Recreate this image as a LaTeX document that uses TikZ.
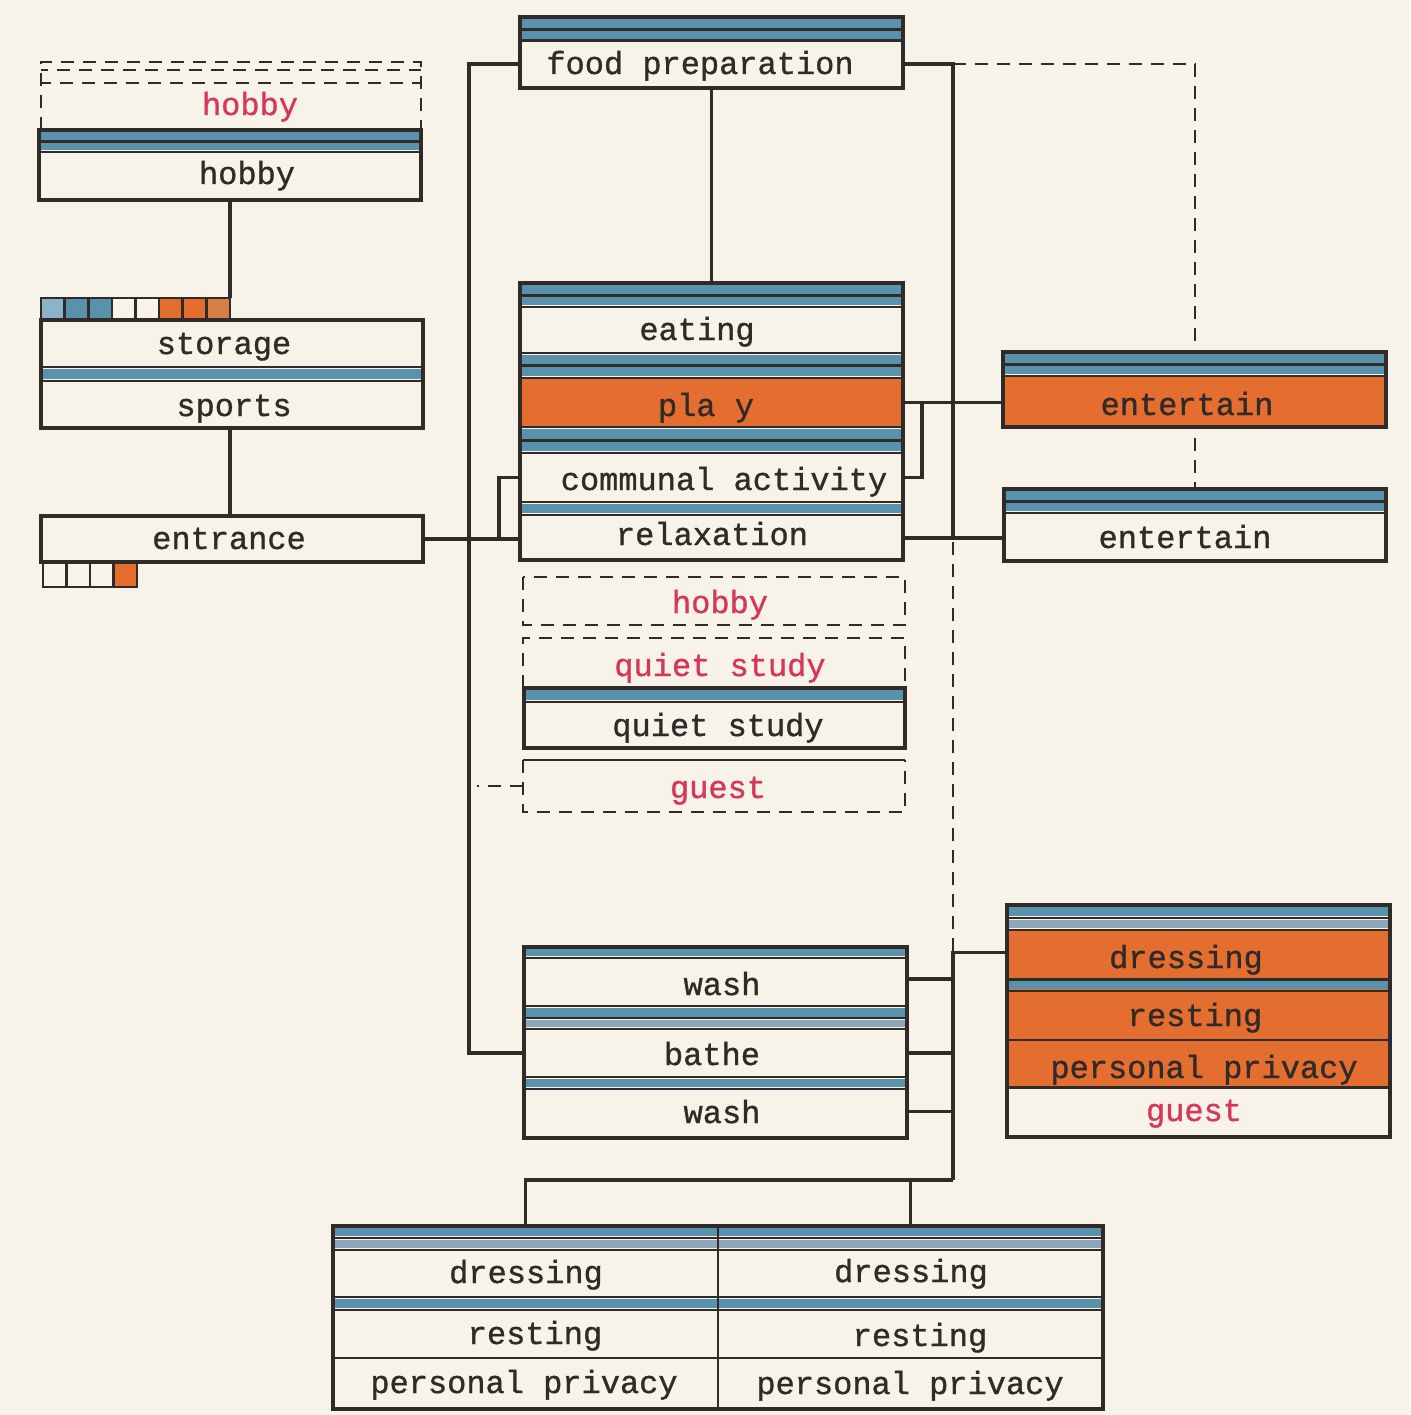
\documentclass[tikz,border=0pt]{standalone}
\usepackage{fontspec}
\newfontfamily\twfont[FakeBold=1]{Liberation Mono}
\definecolor{bg}{RGB}{247,243,232}
\definecolor{inkc}{RGB}{48,42,40}
\definecolor{redc}{RGB}{214,55,88}
\definecolor{bandb}{RGB}{88,146,172}
\definecolor{bandg}{RGB}{143,165,184}
\definecolor{blueL}{RGB}{140,180,200}
\definecolor{orng}{RGB}{228,110,48}
\definecolor{orng2}{RGB}{214,126,72}
\newcommand\cellnode[5]{\pgfmathsetmacro\mycw{#3-#1}\pgfmathsetmacro\mych{#4-#2}%
  \node[area,minimum width=\mycw pt,minimum height=\mych pt] (#5) at (#1,#2) {};}
\newcommand\hln[3]{\draw[inner] (#1,#3) -- (#2,#3);}
\newcommand\bnd[5]{\fill[#5] (#1,#3) rectangle (#2,#4);}
\begin{document}
\begin{tikzpicture}[x=1pt,y=-1pt,
  conn/.style={draw=inkc,line width=3.2pt},
  inner/.style={draw=inkc,line width=2.8pt},
  outl/.style={draw=inkc,line width=3.4pt},
  dsh/.style={draw=inkc,line width=2pt,dash pattern=on 13pt off 9pt},
  txt/.style={font=\twfont\fontsize{32}{32}\selectfont,text=inkc,anchor=base,inner sep=0},
  rtxt/.style={txt,text=redc},
  area/.style={inner sep=0,outer sep=0,anchor=north west,draw=none}]
\fill[bg] (0,0) rectangle (1410,1415);
\useasboundingbox (0,0) rectangle (1410,1415);
% ---------- areas ----------
\cellnode{41}{62}{421}{130}{hghost}
\cellnode{39}{130}{421}{200}{hb}
\cellnode{41}{298}{230}{320}{stq}
\cellnode{41}{320}{423}{428}{ssb}
\cellnode{41}{516}{423}{562}{ent}
\cellnode{43}{562}{137}{587}{etq}
\cellnode{520}{17}{903}{88}{fp}
\cellnode{520}{40}{903}{88}{fprow}
\cellnode{520}{283}{903}{560}{cbox}
\cellnode{520}{307}{903}{353}{eat}
\cellnode{520}{378}{903}{427}{play}
\cellnode{520}{453}{903}{502}{comm}
\cellnode{520}{516}{903}{560}{relax}
\cellnode{523}{577}{905}{625}{hobg}
\cellnode{523}{638}{905}{688}{qsg}
\cellnode{524}{688}{905}{748}{qs}
\cellnode{523}{760}{905}{812}{guestg}
\cellnode{1003}{352}{1386}{427}{enta}
\cellnode{1003}{376}{1386}{427}{entarow}
\cellnode{1004}{489}{1386}{561}{entb}
\cellnode{1004}{513}{1386}{561}{entbrow}
\cellnode{524}{947}{907}{1138}{wb}
\cellnode{524}{958}{907}{1000}{washa}
\cellnode{524}{1029}{907}{1077}{bathe}
\cellnode{524}{1089}{907}{1134}{washb}
\cellnode{1007}{905}{1390}{1137}{db}
\cellnode{1007}{930}{1390}{975}{dress}
\cellnode{1007}{991}{1390}{1040}{rest}
\cellnode{1007}{1040}{1390}{1087}{pp}
\cellnode{1007}{1087}{1390}{1137}{guest}
\cellnode{333}{1226}{718}{1409}{tl}
\cellnode{718}{1226}{1103}{1409}{tr}
\coordinate (yb) at (0,1180);
% ---------- connectors ----------
\draw[conn] (hb.south) -- (hb.south |- stq.north);
\draw[conn] (ssb.south -| hb.south) -- (ent.north -| hb.south);
\draw[conn] (ent.east) -- (ent.east -| relax.west);
\draw[conn] ([xshift=-21pt]relax.west) |- (comm.west);
\draw[conn] (fprow.west) -- ++(-51,0) coordinate (lv) |- (bathe.west);
\draw[dsh] (guestg.west) -- ++(-46,0);
\draw[conn] (fp.south) -- (cbox.north);
\draw[conn] (fprow.east) -- ++(50,0) coordinate (rv) -- (rv |- relax.east);
\draw[conn] (relax.east) -- (relax.east -| entbrow.west);
\draw[dsh] (rv) -- (rv -| entb.north) -- (entb.north);
\draw[dsh] ([yshift=-4pt]rv |- relax.east) -- (rv |- dress.west);
\draw[conn] (play.east) -- (play.east -| entarow.west);
\draw[conn] (comm.east) -- ++(19,0) |- (play.east);
\draw[conn] (dress.west) -- (dress.west -| rv) coordinate (jt) -- (jt |- yb) coordinate (jb);
\draw[conn] (washa.east) -- (washa.east -| rv);
\draw[conn] (bathe.east) -- (bathe.east -| rv);
\draw[conn] (washb.east) -- (washb.east -| rv);
\draw[conn] (jb) -- (jb -| tl.north) -- (tl.north);
\draw[conn] (jb -| tr.north) -- (tr.north);
% ---------- ghost boxes ----------
\draw[dsh] (hghost.south west) -- (hghost.north west) -- (hghost.north east) -- (hghost.south east);
\draw[dsh,dash phase=6pt] (41,70) -- (421,70);
\draw[dsh,dash phase=3pt] (41,83) -- (421,83);
\draw[dsh] (hobg.north west) rectangle (hobg.south east);
\draw[dsh] (qsg.south west) -- (qsg.north west) -- (qsg.north east) -- (qsg.south east);
\draw[dsh] (guestg.north west) -- (guestg.south west) -- (guestg.south east) -- (guestg.north east);
\draw[inner] (guestg.north west) -- (guestg.north east);
% ---------- box fills ----------
\foreach \b in {hb,ssb,ent,fp,cbox,qs,enta,entb,wb,db,tl,tr}{\fill[bg] (\b.north west) rectangle (\b.south east);}
% hobby
\bnd{39}{421}{131}{140}{bandb}
\bnd{39}{421}{143}{150}{bandb}
\hln{39}{421}{141.5}
\hln{39}{421}{152}
% storage squares
\foreach \c [count=\i from 0] in {blueL,bandb,bandb,bg,bg,orng,orng,orng2}{
  \fill[\c] (41+\i*23.6,298) rectangle (41+\i*23.6+23.6,320);
  \draw[inner,line width=2.6pt] (41+\i*23.6,298) rectangle (41+\i*23.6+23.6,320);}
% storage / sports
\hln{41}{423}{367}
\bnd{41}{423}{369}{379}{bandb}
\hln{41}{423}{381}
% entrance squares
\foreach \c [count=\i from 0] in {bg,bg,bg,orng}{
  \fill[\c] (43+\i*23.5,562) rectangle (43+\i*23.5+23.5,587);
  \draw[inner,line width=2.6pt] (43+\i*23.5,562) rectangle (43+\i*23.5+23.5,587);}
% food preparation
\bnd{520}{903}{19}{28}{bandb}
\bnd{520}{903}{31}{39}{bandb}
\hln{520}{903}{29.5}
\hln{520}{903}{40.5}
% eating block
\fill[orng] (play.north west) rectangle (play.south east);
\bnd{520}{903}{285}{294}{bandb}
\bnd{520}{903}{297}{305}{bandb}
\hln{520}{903}{295.5}
\hln{520}{903}{307}
\hln{520}{903}{353}
\bnd{520}{903}{355}{364}{bandb}
\bnd{520}{903}{367}{376}{bandb}
\hln{520}{903}{365.5}
\hln{520}{903}{378}
\hln{520}{903}{427}
\bnd{520}{903}{429}{439}{bandb}
\bnd{520}{903}{442}{451}{bandb}
\hln{520}{903}{440.5}
\hln{520}{903}{453}
\hln{520}{903}{502}
\bnd{520}{903}{504}{513}{bandb}
\hln{520}{903}{515}
% quiet study
\bnd{524}{905}{690}{700}{bandb}
\hln{524}{905}{702}
% entertain boxes
\fill[orng] (entarow.north west) rectangle (entarow.south east);
\bnd{1003}{1386}{354}{363}{bandb}
\bnd{1003}{1386}{366}{374}{bandb}
\hln{1003}{1386}{364.5}
\hln{1003}{1386}{376}
\bnd{1004}{1386}{491}{500}{bandb}
\bnd{1004}{1386}{503}{511}{bandb}
\hln{1004}{1386}{501.5}
\hln{1004}{1386}{513}
% wash block
\bnd{524}{907}{949}{956}{bandb}
\hln{524}{907}{958}
\hln{524}{907}{1006}
\bnd{524}{907}{1008}{1017}{bandb}
\hln{524}{907}{1018}
\bnd{524}{907}{1020}{1027}{bandg}
\hln{524}{907}{1029}
\hln{524}{907}{1077}
\bnd{524}{907}{1079}{1087}{bandb}
\hln{524}{907}{1089}
% dressing box right
\fill[orng] (1007,930) rectangle (1390,1087);
\bnd{1007}{1390}{907}{916}{bandb}
\hln{1007}{1390}{918}
\bnd{1007}{1390}{920}{928}{bandg}
\hln{1007}{1390}{930}
\hln{1007}{1390}{979.5}
\bnd{1007}{1390}{981}{989}{bandb}
\hln{1007}{1390}{991}
\hln{1007}{1390}{1040}
\hln{1007}{1390}{1087.5}
% bottom table
\bnd{333}{1103}{1228}{1236}{bandb}
\hln{333}{1103}{1238}
\bnd{333}{1103}{1240}{1248}{bandg}
\hln{333}{1103}{1250}
\hln{333}{1103}{1297}
\bnd{333}{1103}{1299}{1308}{bandb}
\hln{333}{1103}{1310}
\hln{333}{1103}{1358}
\draw[inner] (tl.north east) -- (tl.south east);
% ---------- outlines ----------
\foreach \b in {hb,ssb,ent,fp,cbox,qs,enta,entb,wb,db}{\draw[outl] (\b.north west) rectangle (\b.south east);}
\draw[outl] (tl.north west) rectangle (tr.south east);
% ---------- texts ----------
\node[rtxt] (th1) at (250,115) {hobby};
\node[txt] (th2) at (247,184) {hobby};
\node[txt] (tsto) at (224,354) {storage};
\node[txt] (tspo) at (234,416) {sports};
\node[txt] (tent) at (229,549) {entrance};
\node[txt] (tfood) at (700,74) {food preparation};
\node[txt] (teat) at (697,340) {eating};
\node[txt] (tplay) at (706,416) {pla y};
\node[txt] (tcomm) at (724,490) {communal activity};
\node[txt] (trel) at (712,545) {relaxation};
\node[rtxt] (thob) at (720,613) {hobby};
\node[rtxt] (tqs1) at (720,676) {quiet study};
\node[txt] (tqs2) at (718,736) {quiet study};
\node[rtxt] (tg1) at (718,798) {guest};
\node[txt] (tea) at (1187,415) {entertain};
\node[txt] (teb) at (1185,548) {entertain};
\node[txt] (tw1) at (722,995) {wash};
\node[txt] (tba) at (712,1065) {bathe};
\node[txt] (tw2) at (722,1123) {wash};
\node[txt] (tdr) at (1186,968) {dressing};
\node[txt] (tre) at (1195,1026) {resting};
\node[txt] (tpp) at (1204,1078) {personal privacy};
\node[rtxt] (tg2) at (1194,1121) {guest};
\node[txt] (tdl) at (526,1283) {dressing};
\node[txt] (tdrr) at (911,1282) {dressing};
\node[txt] (trl) at (535,1344) {resting};
\node[txt] (trr) at (920,1346) {resting};
\node[txt] (tpl) at (524,1393) {personal privacy};
\node[txt] (tpr) at (910,1394) {personal privacy};
\end{tikzpicture}
\end{document}
